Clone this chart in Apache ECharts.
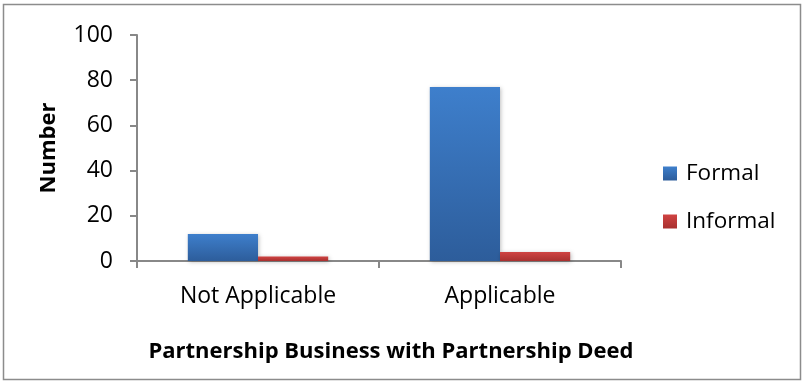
<!DOCTYPE html>
<html>
<head>
<meta charset="utf-8">
<script src="https://cdn.jsdelivr.net/npm/echarts@6/dist/echarts.min.js"></script>
<style>
  html, body { margin: 0; padding: 0; background: #fff; }
  #chart { width: 804px; height: 384px; }
</style>
</head>
<body>
<div id="chart"></div>
<script>
// Categories, series values and tick settings
const categories = ['Not Applicable', 'Applicable'];
const formalValues = [12, 77];
const informalValues = [2, 4];
const yTicks = { min: 0, max: 100, interval: 20 };
const seriesNames = ['Formal', 'Informal'];
const xTitle = 'Partnership Business with Partnership Deed';
const yTitle = 'Number';

const FONT = '"Open Sans", Lato, sans-serif';

function grad(top, bottom) {
  return new echarts.graphic.LinearGradient(0, 0, 0, 1, [
    { offset: 0, color: top },
    { offset: 1, color: bottom }
  ]);
}

const chart = echarts.init(document.getElementById('chart'), null, { renderer: 'canvas' });

chart.setOption({
  animation: false,
  backgroundColor: '#ffffff',
  grid: { left: 137, right: 183, top: 35, bottom: 123, containLabel: false },
  legend: {
    orient: 'vertical',
    left: 658,
    top: 157,
    itemWidth: 14,
    itemHeight: 14,
    itemGap: 25,
    icon: 'rect',
    textStyle: { fontFamily: FONT, fontSize: 22.5, color: '#000', padding: [0, 0, 0, 4] },
    data: seriesNames
  },
  xAxis: {
    type: 'category',
    data: categories,
    axisLine: { lineStyle: { color: '#888', width: 2 } },
    axisTick: { show: true, length: 7, lineStyle: { color: '#888', width: 2 } },
    axisLabel: { fontFamily: FONT, fontSize: 23, color: '#000', margin: 24 },
    name: xTitle,
    nameLocation: 'middle',
    nameGap: 80,
    nameTextStyle: { fontFamily: FONT, fontSize: 22, fontWeight: 'bold', color: '#000', padding: [0, 0, 0, 24] }
  },
  yAxis: {
    type: 'value',
    min: yTicks.min,
    max: yTicks.max,
    interval: yTicks.interval,
    axisLine: { show: true, lineStyle: { color: '#888', width: 2 } },
    axisTick: { show: true, length: 7, lineStyle: { color: '#888', width: 2 } },
    splitLine: { show: false },
    axisLabel: { fontFamily: FONT, fontSize: 23, color: '#000', margin: 24 },
    name: yTitle,
    nameLocation: 'middle',
    nameRotate: 90,
    nameGap: 77,
    nameTextStyle: { fontFamily: FONT, fontSize: 22, fontWeight: 'bold', color: '#000' }
  },
  series: [
    {
      name: seriesNames[0],
      type: 'bar',
      data: formalValues,
      barGap: '0%',
      barCategoryGap: '42%',
      itemStyle: {
        color: grad('#3e7fcc', '#2d5d9b'),
        shadowColor: 'rgba(0,0,0,0.25)',
        shadowBlur: 4,
        shadowOffsetX: 1,
        shadowOffsetY: 1
      }
    },
    {
      name: seriesNames[1],
      type: 'bar',
      data: informalValues,
      itemStyle: {
        color: grad('#d04342', '#a8302f'),
        shadowColor: 'rgba(0,0,0,0.25)',
        shadowBlur: 4,
        shadowOffsetX: 1,
        shadowOffsetY: 1
      }
    }
  ],
  graphic: [
    {
      type: 'rect',
      silent: true,
      shape: { x: 3.5, y: 4.5, width: 797, height: 375 },
      style: { fill: 'none', stroke: '#8c8c8c', lineWidth: 1.5 },
      z: -1
    }
  ]
});
</script>
</body>
</html>
